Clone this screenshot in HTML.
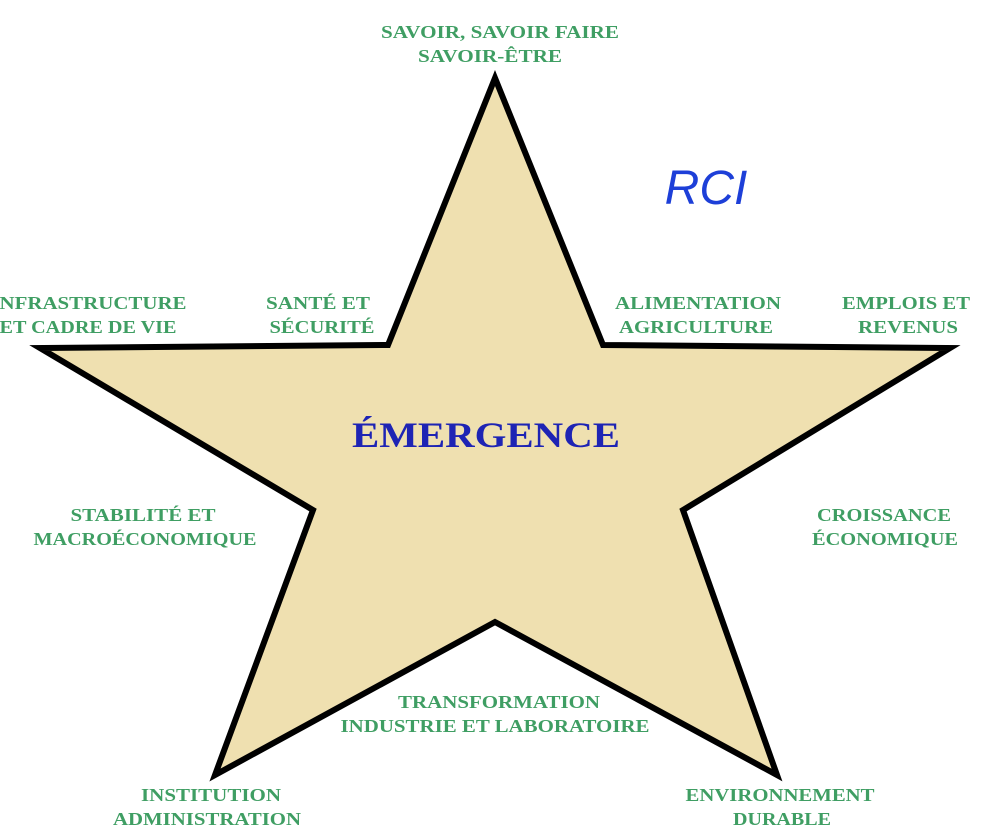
<!DOCTYPE html>
<html><head><meta charset="utf-8"><style>
html,body{margin:0;padding:0;background:#fff;}
svg{display:block}
.g{font-family:"Liberation Serif",serif;font-weight:bold;font-size:18px;fill:#3f9e63;text-anchor:middle}
</style></head><body>
<svg width="1002" height="836" viewBox="0 0 1002 836" xmlns="http://www.w3.org/2000/svg">
<polygon points="495,78 603,345 950,348 683,510 777,775 495,622 215,775 313,510 40,348 388,345" fill="#efe0b0" stroke="#000" stroke-width="6" stroke-linejoin="miter"/>
<text class="g" x="500" y="38" textLength="238" lengthAdjust="spacingAndGlyphs">SAVOIR, SAVOIR FAIRE</text>
<text class="g" x="490" y="62" textLength="144" lengthAdjust="spacingAndGlyphs">SAVOIR-ÊTRE</text>
<text x="706" y="204" font-family="Liberation Sans,sans-serif" font-style="italic" font-size="48" fill="#1d3fd8" text-anchor="middle">RCI</text>
<text class="g" x="93" y="309" textLength="187" lengthAdjust="spacingAndGlyphs">NFRASTRUCTURE</text>
<text class="g" x="88" y="333" textLength="177" lengthAdjust="spacingAndGlyphs">ET CADRE DE VIE</text>
<text class="g" x="318" y="309" textLength="104" lengthAdjust="spacingAndGlyphs">SANTÉ ET</text>
<text class="g" x="322" y="333" textLength="105" lengthAdjust="spacingAndGlyphs">SÉCURITÉ</text>
<text class="g" x="698" y="309" textLength="166" lengthAdjust="spacingAndGlyphs">ALIMENTATION</text>
<text class="g" x="696" y="333" textLength="154" lengthAdjust="spacingAndGlyphs">AGRICULTURE</text>
<text class="g" x="906" y="309" textLength="128" lengthAdjust="spacingAndGlyphs">EMPLOIS ET</text>
<text class="g" x="908" y="333" textLength="100" lengthAdjust="spacingAndGlyphs">REVENUS</text>
<text x="486" y="447" font-family="Liberation Serif,serif" font-weight="bold" font-size="36" fill="#1e24b4" text-anchor="middle" textLength="268" lengthAdjust="spacingAndGlyphs">ÉMERGENCE</text>
<text class="g" x="143" y="521" textLength="145" lengthAdjust="spacingAndGlyphs">STABILITÉ ET</text>
<text class="g" x="145" y="545" textLength="223" lengthAdjust="spacingAndGlyphs">MACROÉCONOMIQUE</text>
<text class="g" x="884" y="521" textLength="134" lengthAdjust="spacingAndGlyphs">CROISSANCE</text>
<text class="g" x="885" y="545" textLength="146" lengthAdjust="spacingAndGlyphs">ÉCONOMIQUE</text>
<text class="g" x="499" y="708" textLength="202" lengthAdjust="spacingAndGlyphs">TRANSFORMATION</text>
<text class="g" x="495" y="732" textLength="309" lengthAdjust="spacingAndGlyphs">INDUSTRIE ET LABORATOIRE</text>
<text class="g" x="211" y="801" textLength="140" lengthAdjust="spacingAndGlyphs">INSTITUTION</text>
<text class="g" x="207" y="825" textLength="188" lengthAdjust="spacingAndGlyphs">ADMINISTRATION</text>
<text class="g" x="780" y="801" textLength="189" lengthAdjust="spacingAndGlyphs">ENVIRONNEMENT</text>
<text class="g" x="782" y="825" textLength="98" lengthAdjust="spacingAndGlyphs">DURABLE</text>
</svg>
</body></html>
